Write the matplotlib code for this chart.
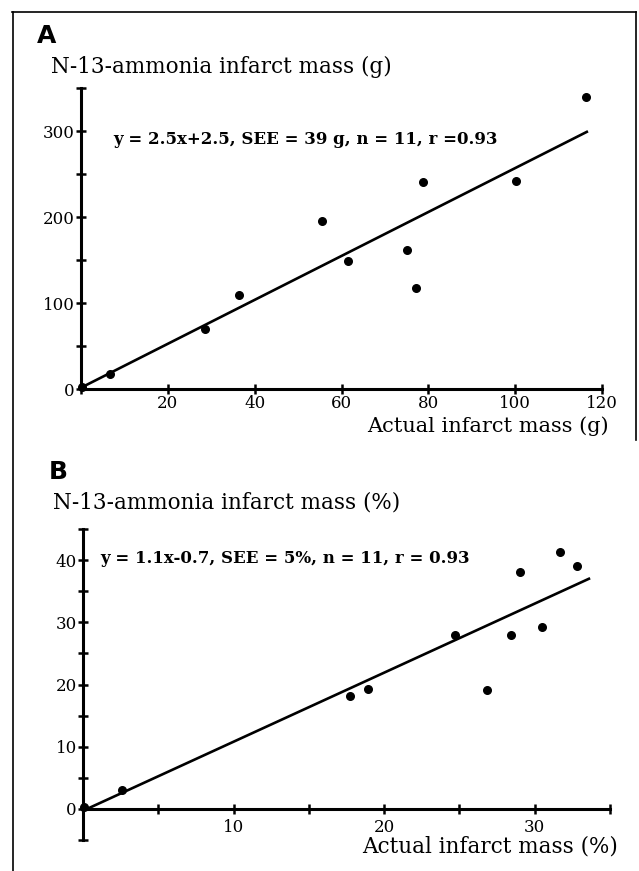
import matplotlib
matplotlib.use("Agg")
import matplotlib.pyplot as plt
from matplotlib.lines import Line2D

plt.rcParams.update({"font.family": "DejaVu Serif", "font.size": 12})

# Panel A: infarct mass in grams
mass_actual_g = [0.2, 6.7, 28.6, 36.5, 55.5, 61.5, 75.0, 77.2, 78.8, 100.2, 116.4]
mass_nh3_g = [2, 18, 70, 109, 195, 149, 162, 118, 241, 242, 339]
fit_x_g = [0, 116.5]
fit_y_g = [1.5, 299]
eq_a = "y = 2.5x+2.5, SEE = 39 g, n = 11, r =0.93"

# Panel B: infarct mass in percent
mass_actual_pct = [0.05, 2.6, 17.7, 18.9, 24.7, 26.8, 28.4, 29.0, 30.5, 31.7, 32.8]
mass_nh3_pct = [0.3, 3.1, 18.1, 19.3, 27.9, 19.1, 27.9, 38.1, 29.3, 41.3, 39.0]
fit_x_pct = [0, 33.6]
fit_y_pct = [-0.3, 37.0]
eq_b = "y = 1.1x-0.7, SEE = 5%, n = 11, r = 0.93"

W, H = 639, 871
fig = plt.figure(figsize=(W / 100, H / 100), dpi=100)


def px_axes(x0, x1, ytop, ybot):
    return fig.add_axes([x0 / W, 1 - ybot / H, (x1 - x0) / W, (ybot - ytop) / H])


def style(ax):
    for s in ("top", "right"):
        ax.spines[s].set_visible(False)
    for s in ("left", "bottom"):
        ax.spines[s].set_linewidth(2.2)
    ax.tick_params(direction="inout", length=7, width=1.8, labelsize=12, pad=1)
    ax.set_facecolor("none")


# --- A ---
axA = px_axes(81, 602, 88, 389)
axA.set_xlim(0, 120)
axA.set_ylim(0, 350)
style(axA)
axA.set_xticks(range(0, 121, 20))
axA.set_xticklabels([""] + [str(v) for v in range(20, 121, 20)])
axA.set_yticks(range(0, 351, 50))
axA.set_yticklabels(["0", "", "100", "", "200", "", "300", ""])
axA.tick_params(axis="x", pad=1)
axA.scatter(mass_actual_g, mass_nh3_g, s=30, color="black", zorder=3, clip_on=False)
axA.plot(fit_x_g, fit_y_g, color="black", lw=1.9, clip_on=False)
axA.text(7.5, 290, eq_a, fontweight="bold", fontsize=12, va="center", ha="left")
axA.text(-6.9, 374, "N-13-ammonia infarct mass (g)", fontsize=15.5, va="center", ha="left")
axA.text(121.5, -43, "Actual infarct mass (g)", fontsize=15, va="center", ha="right")
axA.text(-10.1, 410, "A", fontsize=18, fontweight="bold", family="DejaVu Sans",
         va="center", ha="left")

# --- B ---
axB = px_axes(83, 610, 529, 840)
axB.set_xlim(0, 35)
axB.set_ylim(-5, 45)
style(axB)
axB.spines["bottom"].set_position(("data", 0))
axB.spines["bottom"].set_bounds(0, 35)
axB.set_xticks(range(5, 36, 5))
axB.set_xticklabels(["", "10", "", "20", "", "30", ""])
axB.set_yticks(range(-5, 46, 5))
axB.set_yticklabels(["", "0", "", "10", "", "20", "", "30", "", "40", ""])
axB.tick_params(axis="x", pad=4)
axB.scatter(mass_actual_pct, mass_nh3_pct, s=30, color="black", zorder=3, clip_on=False)
axB.plot(fit_x_pct, fit_y_pct, color="black", lw=1.9, clip_on=False)
axB.text(1.16, 40.3, eq_b, fontweight="bold", fontsize=12, va="center", ha="left")
axB.text(-2.0, 49.2, "N-13-ammonia infarct mass (%)", fontsize=15.5, va="center", ha="left")
axB.text(35.5, -6.0, "Actual infarct mass (%)", fontsize=15.5, va="center", ha="right")
axB.text(-2.26, 54.2, "B", fontsize=18, fontweight="bold", family="DejaVu Sans",
         va="center", ha="left")

# frame around the figure
for xs, ys in [((12, 636), (12, 12)), ((13, 13), (12, 871)), ((636, 636), (12, 440))]:
    fig.add_artist(Line2D([x / W for x in xs], [1 - y / H for y in ys],
                          color="black", lw=1.2))

fig.savefig("out.png", dpi=100)
